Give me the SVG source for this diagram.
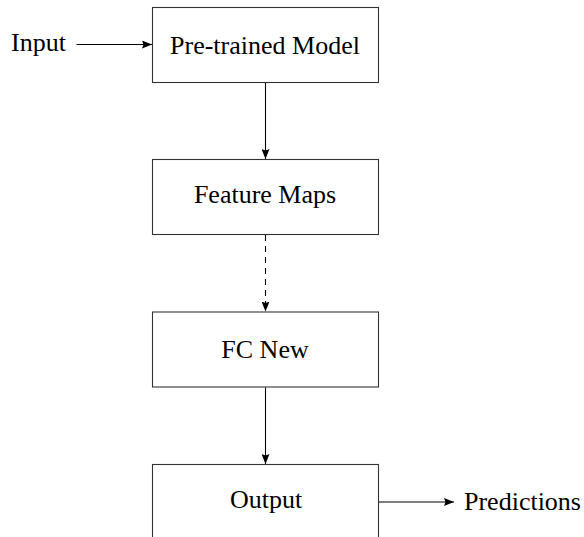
<svg xmlns="http://www.w3.org/2000/svg" width="584" height="537" viewBox="0 0 584 537">
  <defs>
    <marker id="arr" markerWidth="10" markerHeight="8" refX="10" refY="4" orient="auto" markerUnits="userSpaceOnUse">
      <path d="M0,0 L10,4 L0,8 L1.5,4 Z" fill="#000"/>
    </marker>
    <style>
      .box { fill: #fff; stroke: #333; stroke-width: 1.1; }
      .lbl { font-family: "Liberation Serif", "Times New Roman", serif; font-size: 26px; fill: #000; }
      .c { text-anchor: middle; }
      .edge { fill: none; stroke: #000; stroke-width: 1.1; marker-end: url(#arr); }
      .dash { stroke-dasharray: 6 5; }
    </style>
  </defs>
  <rect width="584" height="537" fill="#fff"/>
  <g id="input">
    <text class="lbl" x="11" y="51">Input</text>
  </g>
  <g id="pretrained">
    <rect class="box" x="152.5" y="7.5" width="226" height="75"/>
    <text class="lbl c" x="265" y="54.3">Pre-trained Model</text>
  </g>
  <g id="featuremaps">
    <rect class="box" x="152.5" y="159.5" width="226" height="75"/>
    <text class="lbl c" x="265" y="203.3">Feature Maps</text>
  </g>
  <g id="fcnew">
    <rect class="box" x="152.5" y="312" width="226" height="75"/>
    <text class="lbl c" x="265" y="357.7">FC New</text>
  </g>
  <g id="output">
    <rect class="box" x="152.5" y="464.5" width="226" height="80"/>
    <text class="lbl c" x="266" y="507.7">Output</text>
  </g>
  <g id="predictions">
    <text class="lbl" x="464" y="510">Predictions</text>
  </g>
  <g id="connectors">
    <line class="edge" x1="76.5" y1="44.5" x2="152" y2="44.5"/>
    <line class="edge" x1="265.5" y1="83" x2="265.5" y2="159"/>
    <line class="edge dash" x1="265.5" y1="235" x2="265.5" y2="311.5"/>
    <line class="edge" x1="265.5" y1="387.5" x2="265.5" y2="464"/>
    <line class="edge" x1="379" y1="502" x2="454" y2="502"/>
  </g>
</svg>
